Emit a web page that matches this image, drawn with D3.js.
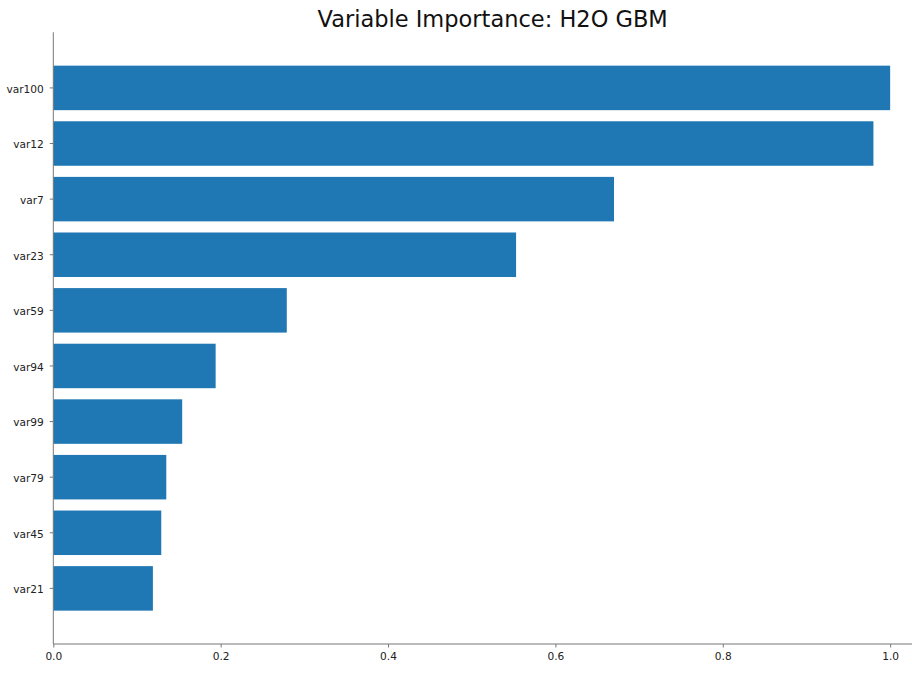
<!DOCTYPE html>
<html>
<head>
<meta charset="utf-8">
<script src="https://cdn.jsdelivr.net/npm/d3@7"></script>
<style>
  html, body { margin: 0; padding: 0; background: #fff; }
  svg { display: block; font-family: "DejaVu Sans", sans-serif; }
</style>
</head>
<body>
<svg id="chart" width="912" height="673"></svg>
<script>
const categories = ["var100", "var12", "var7", "var23", "var59", "var94", "var99", "var79", "var45", "var21"];
const importance = [1.0, 0.980, 0.670, 0.553, 0.279, 0.194, 0.154, 0.135, 0.129, 0.119];
const xTicks = [0.0, 0.2, 0.4, 0.6, 0.8, 1.0];
const chartTitle = "Variable Importance: H2O GBM";

const svg = d3.select("#chart");
const mLeft = 53.3, mRight = 932, mTop = 32.3, mBottom = 644;

const x = d3.scaleLinear().domain([0, 1.05]).range([mLeft, mRight]);
const y = d3.scaleBand().domain(categories).range([mTop, mBottom])
  .paddingInner(0.2).paddingOuter(0.6);

svg.append("g").selectAll("rect").data(categories).join("rect")
  .attr("x", x(0))
  .attr("y", d => y(d))
  .attr("width", (d, i) => x(importance[i]) - x(0))
  .attr("height", y.bandwidth())
  .attr("fill", "#1f77b4");

const xAxis = svg.append("g").attr("transform", `translate(0,${mBottom})`)
  .call(d3.axisBottom(x).tickValues(xTicks).tickFormat(d3.format(".1f")).tickSize(3.5).tickPadding(4.5));
const yAxis = svg.append("g").attr("transform", `translate(${mLeft},0)`)
  .call(d3.axisLeft(y).tickSize(3.5).tickPadding(6));

[xAxis, yAxis].forEach(g => {
  g.select(".domain").attr("stroke", "#777").attr("stroke-width", 1);
  g.selectAll(".tick line").attr("stroke", "#777").attr("stroke-width", 1);
  g.selectAll(".tick text").attr("fill", "#222").style("font-size", "10.6px")
    .style("font-family", "DejaVu Sans, sans-serif");
});
yAxis.selectAll(".tick text").attr("dy", "0.45em");
yAxis.select(".domain").attr("d", `M0,${mTop}V${mBottom}`);
xAxis.select(".domain").attr("d", `M${mLeft},0H${mRight}`);

svg.append("text")
  .attr("x", (mLeft + mRight) / 2)
  .attr("y", 26.7)
  .attr("text-anchor", "middle")
  .attr("fill", "#111")
  .style("font-size", "22.5px")
  .text(chartTitle);
</script>
</body>
</html>
